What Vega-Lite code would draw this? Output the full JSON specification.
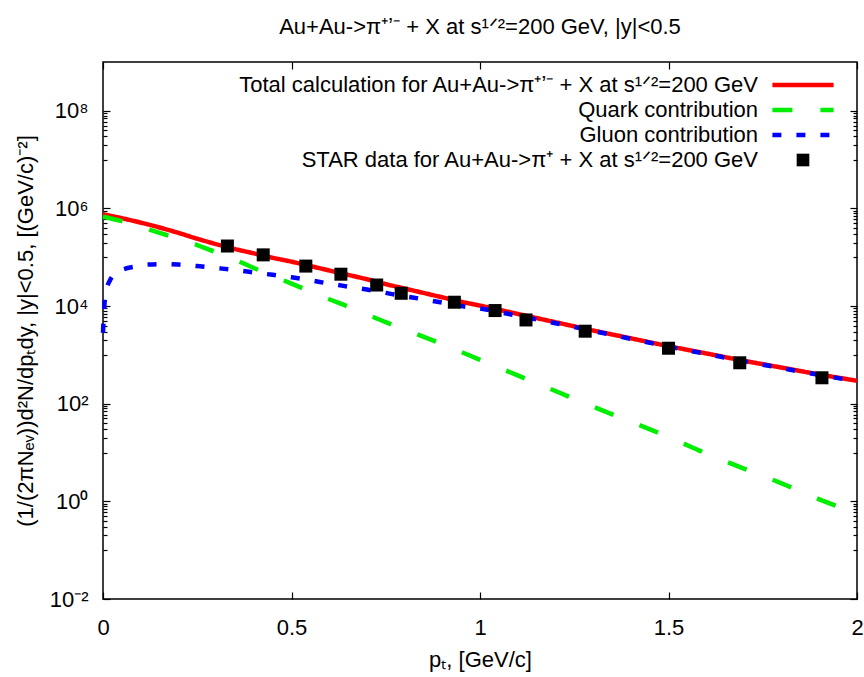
{
  "$schema": "https://vega.github.io/schema/vega-lite/v6.json",
  "width": 754,
  "height": 537,
  "autosize": {"type": "none"},
  "padding": {"left": 103, "top": 62, "right": 7, "bottom": 78},
  "background": "white",
  "title": {
    "text": "Au+Au->π⁺ʼ⁻ + X at s¹ᐟ²=200 GeV, |y|<0.5",
    "fontSize": 22,
    "font": "Liberation Sans",
    "fontWeight": "normal",
    "color": "black",
    "anchor": "middle",
    "baseline": "alphabetic",
    "offset": 5
  },
  "datasets": {
    "curves": [
      {"series": "total", "pt": 0, "v": 758578},
      {"series": "total", "pt": 0.05, "v": 630957},
      {"series": "total", "pt": 0.1, "v": 512861},
      {"series": "total", "pt": 0.15, "v": 407380},
      {"series": "total", "pt": 0.2, "v": 316228},
      {"series": "total", "pt": 0.25, "v": 239883},
      {"series": "total", "pt": 0.3, "v": 186209},
      {"series": "total", "pt": 0.35, "v": 147911},
      {"series": "total", "pt": 0.4, "v": 120226},
      {"series": "total", "pt": 0.45, "v": 97724},
      {"series": "total", "pt": 0.5, "v": 81283},
      {"series": "total", "pt": 0.55, "v": 66069},
      {"series": "total", "pt": 0.6, "v": 53703},
      {"series": "total", "pt": 0.65, "v": 43652},
      {"series": "total", "pt": 0.7, "v": 35481},
      {"series": "total", "pt": 0.75, "v": 28184},
      {"series": "total", "pt": 0.8, "v": 22909},
      {"series": "total", "pt": 0.85, "v": 18621},
      {"series": "total", "pt": 0.9, "v": 15136},
      {"series": "total", "pt": 0.95, "v": 12303},
      {"series": "total", "pt": 1.0, "v": 10233},
      {"series": "total", "pt": 1.1, "v": 6918},
      {"series": "total", "pt": 1.2, "v": 4677},
      {"series": "total", "pt": 1.3, "v": 3162},
      {"series": "total", "pt": 1.4, "v": 2188},
      {"series": "total", "pt": 1.5, "v": 1514},
      {"series": "total", "pt": 1.6, "v": 1072},
      {"series": "total", "pt": 1.7, "v": 759},
      {"series": "total", "pt": 1.8, "v": 550},
      {"series": "total", "pt": 1.9, "v": 398},
      {"series": "total", "pt": 2.0, "v": 295},
      {"series": "quark", "pt": 0, "v": 676083},
      {"series": "quark", "pt": 0.05, "v": 549541},
      {"series": "quark", "pt": 0.1, "v": 416869},
      {"series": "quark", "pt": 0.15, "v": 316228},
      {"series": "quark", "pt": 0.2, "v": 239883},
      {"series": "quark", "pt": 0.25, "v": 177828},
      {"series": "quark", "pt": 0.3, "v": 125893},
      {"series": "quark", "pt": 0.35, "v": 89125},
      {"series": "quark", "pt": 0.4, "v": 60256},
      {"series": "quark", "pt": 0.45, "v": 41687},
      {"series": "quark", "pt": 0.5, "v": 28840},
      {"series": "quark", "pt": 0.55, "v": 19953},
      {"series": "quark", "pt": 0.6, "v": 13804},
      {"series": "quark", "pt": 0.65, "v": 9772},
      {"series": "quark", "pt": 0.7, "v": 6761},
      {"series": "quark", "pt": 0.75, "v": 4677},
      {"series": "quark", "pt": 0.8, "v": 3311},
      {"series": "quark", "pt": 0.9, "v": 1660},
      {"series": "quark", "pt": 1.0, "v": 794},
      {"series": "quark", "pt": 1.1, "v": 380},
      {"series": "quark", "pt": 1.2, "v": 182},
      {"series": "quark", "pt": 1.3, "v": 87.1},
      {"series": "quark", "pt": 1.4, "v": 42.7},
      {"series": "quark", "pt": 1.5, "v": 20.9},
      {"series": "quark", "pt": 1.6, "v": 9.55},
      {"series": "quark", "pt": 1.7, "v": 4.68},
      {"series": "quark", "pt": 1.8, "v": 2.34},
      {"series": "quark", "pt": 1.9, "v": 1.1},
      {"series": "quark", "pt": 2.0, "v": 0.56},
      {"series": "gluon", "pt": 0, "v": 2818},
      {"series": "gluon", "pt": 0.004, "v": 11220},
      {"series": "gluon", "pt": 0.01, "v": 22387},
      {"series": "gluon", "pt": 0.02, "v": 35481},
      {"series": "gluon", "pt": 0.035, "v": 47863},
      {"series": "gluon", "pt": 0.05, "v": 54954},
      {"series": "gluon", "pt": 0.085, "v": 64565},
      {"series": "gluon", "pt": 0.12, "v": 70795},
      {"series": "gluon", "pt": 0.16, "v": 72444},
      {"series": "gluon", "pt": 0.2, "v": 70795},
      {"series": "gluon", "pt": 0.25, "v": 66069},
      {"series": "gluon", "pt": 0.3, "v": 60256},
      {"series": "gluon", "pt": 0.35, "v": 54954},
      {"series": "gluon", "pt": 0.4, "v": 48978},
      {"series": "gluon", "pt": 0.45, "v": 43652},
      {"series": "gluon", "pt": 0.5, "v": 38905},
      {"series": "gluon", "pt": 0.55, "v": 33884},
      {"series": "gluon", "pt": 0.6, "v": 28840},
      {"series": "gluon", "pt": 0.65, "v": 25119},
      {"series": "gluon", "pt": 0.7, "v": 21878},
      {"series": "gluon", "pt": 0.75, "v": 18621},
      {"series": "gluon", "pt": 0.8, "v": 15849},
      {"series": "gluon", "pt": 0.85, "v": 13804},
      {"series": "gluon", "pt": 0.9, "v": 11749},
      {"series": "gluon", "pt": 0.95, "v": 10000},
      {"series": "gluon", "pt": 1.0, "v": 8913},
      {"series": "gluon", "pt": 1.1, "v": 6310},
      {"series": "gluon", "pt": 1.2, "v": 4467},
      {"series": "gluon", "pt": 1.3, "v": 3090},
      {"series": "gluon", "pt": 1.4, "v": 2138},
      {"series": "gluon", "pt": 1.5, "v": 1479},
      {"series": "gluon", "pt": 1.6, "v": 1047},
      {"series": "gluon", "pt": 1.7, "v": 741},
      {"series": "gluon", "pt": 1.8, "v": 537},
      {"series": "gluon", "pt": 1.9, "v": 389},
      {"series": "gluon", "pt": 2.0, "v": 288}
    ],
    "star": [
      {"series": "star", "pt": 0.33, "v": 170000},
      {"series": "star", "pt": 0.425, "v": 112000},
      {"series": "star", "pt": 0.538, "v": 66000},
      {"series": "star", "pt": 0.631, "v": 45000},
      {"series": "star", "pt": 0.726, "v": 27000},
      {"series": "star", "pt": 0.791, "v": 18300},
      {"series": "star", "pt": 0.932, "v": 12000},
      {"series": "star", "pt": 1.04, "v": 8100},
      {"series": "star", "pt": 1.122, "v": 5200},
      {"series": "star", "pt": 1.279, "v": 3060},
      {"series": "star", "pt": 1.5, "v": 1370},
      {"series": "star", "pt": 1.689, "v": 690},
      {"series": "star", "pt": 1.907, "v": 340}
    ]
  },
  "layer": [
    {
      "data": {"name": "curves"},
      "mark": {"type": "line", "strokeWidth": 4.5, "interpolate": "monotone"},
      "encoding": {
        "x": {
          "field": "pt", "type": "quantitative",
          "scale": {"domain": [0, 2], "nice": false, "zero": false},
          "axis": {
            "orient": "bottom", "values": [0, 0.5, 1, 1.5, 2], "format": "~g",
            "tickSize": -7, "labelPadding": 25, "labelFlush": false, "domain": false,
            "title": "pₜ, [GeV/c]", "titlePadding": 11
          }
        },
        "y": {
          "field": "v", "type": "quantitative",
          "scale": {"type": "log", "domain": [0.01, 1000000000], "nice": false},
          "axis": {
            "orient": "left", "values": [0.01, 1, 100, 10000, 1000000, 100000000],
            "labelExpr": "['10⁻²','10⁻¹','10⁰','10¹','10²','10³','10⁴','10⁵','10⁶','10⁷','10⁸','10⁹'][round(log(datum.value)/LN10)+2]",
            "tickSize": -7, "labelPadding": 22, "domain": false,
            "title": "(1/(2πNₑᵥ))d²N/dpₜdy, |y|<0.5, [(GeV/c)⁻²]", "titlePadding": 12
          }
        },
        "color": {
          "field": "series", "type": "nominal",
          "scale": {"domain": ["total", "quark", "gluon", "star"], "range": ["#ff0000", "#00ee00", "#0000ff", "#000000"]},
          "legend": {
            "orient": "none", "legendX": 689, "legendY": 12,
            "title": null, "padding": 0,
            "labelAlign": "right", "labelOffset": -56, "labelBaseline": "middle",
            "labelFontSize": 22, "labelFont": "Liberation Sans", "labelColor": "black", "labelLimit": 800,
            "symbolSize": 81, "symbolStrokeWidth": 4.5, "rowPadding": 3,
            "encode": {"symbols": {"update": {
              "strokeJoin": {"value": "miter"},
              "strokeCap": {"value": "butt"},
              "strokeWidth": {"signal": "datum.value == 'star' ? 0 : 4.5"},
              "size": {"signal": "datum.value == 'star' ? 160 : 81"}
            }}},
            "labelExpr": "datum.value == 'total' ? 'Total calculation for Au+Au->π⁺ʼ⁻ + X at s¹ᐟ²=200 GeV' : datum.value == 'quark' ? 'Quark contribution' : datum.value == 'gluon' ? 'Gluon contribution' : 'STAR data for Au+Au->π⁺ + X at s¹ᐟ²=200 GeV'"
          }
        },
        "strokeDash": {
          "field": "series", "type": "nominal",
          "scale": {"domain": ["total", "quark", "gluon", "star"], "range": [[1, 0], [20, 28], [9, 15], [1, 0]]},
          "legend": null
        }
      }
    },
    {
      "data": {"name": "star"},
      "mark": {"type": "point", "filled": true, "opacity": 1, "size": 169},
      "encoding": {
        "x": {
          "field": "pt", "type": "quantitative",
          "axis": {"orient": "top", "values": [0, 0.5, 1, 1.5, 2], "labels": false, "tickSize": -7, "domain": false, "title": null}
        },
        "y": {
          "field": "v", "type": "quantitative",
          "axis": {"orient": "right", "values": [0.01, 1, 100, 10000, 1000000, 100000000], "labels": false, "tickSize": -7, "domain": false, "title": null}
        },
        "color": {"field": "series", "type": "nominal"},
        "shape": {
          "field": "series", "type": "nominal",
          "scale": {"domain": ["total", "quark", "gluon", "star"], "range": ["M-6.8,0H6.8", "M-6.8,0H6.8", "M-6.8,0H6.8", "square"]},
          "legend": null
        }
      }
    },
    {
      "data": {"name": "star"},
      "mark": {"type": "point", "opacity": 0},
      "encoding": {
        "x": {"field": "pt", "type": "quantitative", "axis": null},
        "y": {
          "field": "v", "type": "quantitative",
          "axis": {
            "orient": "left",
            "values": [0.1, 0.2, 0.3, 0.4, 0.5, 0.6, 0.7, 0.8, 0.9, 10, 20, 30, 40, 50, 60, 70, 80, 90, 1000, 2000, 3000, 4000, 5000, 6000, 7000, 8000, 9000, 100000, 200000, 300000, 400000, 500000, 600000, 700000, 800000, 900000, 10000000, 20000000, 30000000, 40000000, 50000000, 60000000, 70000000, 80000000, 90000000],
            "labels": false, "tickSize": -4, "domain": false, "title": null
          }
        }
      }
    },
    {
      "data": {"name": "star"},
      "mark": {"type": "point", "opacity": 0},
      "encoding": {
        "x": {"field": "pt", "type": "quantitative", "axis": null},
        "y": {
          "field": "v", "type": "quantitative",
          "axis": {
            "orient": "right",
            "values": [0.1, 0.2, 0.3, 0.4, 0.5, 0.6, 0.7, 0.8, 0.9, 10, 20, 30, 40, 50, 60, 70, 80, 90, 1000, 2000, 3000, 4000, 5000, 6000, 7000, 8000, 9000, 100000, 200000, 300000, 400000, 500000, 600000, 700000, 800000, 900000, 10000000, 20000000, 30000000, 40000000, 50000000, 60000000, 70000000, 80000000, 90000000],
            "labels": false, "tickSize": -4, "domain": false, "title": null
          }
        }
      }
    }
  ],
  "resolve": {"axis": {"x": "independent", "y": "independent"}},
  "config": {
    "font": "Liberation Sans",
    "view": {"stroke": "black", "strokeWidth": 1.5},
    "axis": {
      "grid": false,
      "tickColor": "black",
      "tickWidth": 1.2,
      "labelColor": "black",
      "labelFont": "Liberation Sans",
      "labelFontSize": 22,
      "titleFont": "Liberation Sans",
      "titleFontSize": 22,
      "titleFontWeight": "normal",
      "titleColor": "black"
    }
  }
}
